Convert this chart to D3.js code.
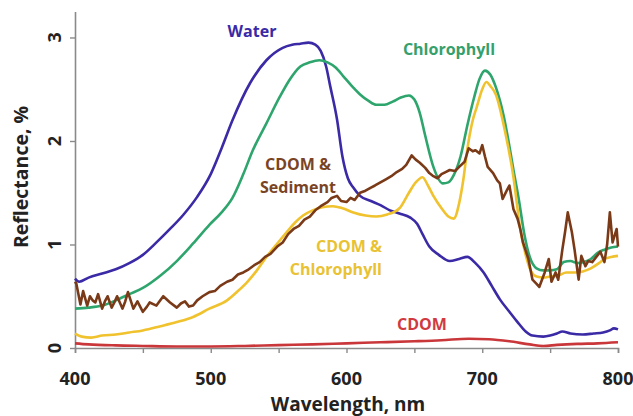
<!DOCTYPE html>
<html>
<head>
<meta charset="utf-8">
<script src="https://cdn.jsdelivr.net/npm/d3@7/dist/d3.min.js"></script>
<style>
  html, body { margin: 0; padding: 0; background: #fff; }
  svg { display: block; }
  text { font-family: "Open Sans", "DejaVu Sans", sans-serif; font-weight: 700; }
</style>
</head>
<body>
<svg id="chart" width="633" height="416"></svg>
<script>
// Reflectance spectra, [wavelength nm, reflectance %]
const water = [[400,0.67],[403,0.64],[410,0.68],[420,0.72],[430,0.76],[440,0.82],[450,0.90],[460,1.02],[470,1.15],[480,1.29],[490,1.46],[500,1.68],[508,1.93],[516,2.20],[529,2.56],[541,2.78],[553,2.90],[560,2.93],[566,2.94],[572,2.95],[577,2.93],[581,2.87],[585,2.72],[588,2.53],[593,2.21],[597,1.85],[601,1.64],[605,1.55],[610,1.47],[618,1.42],[625,1.38],[632,1.33],[639,1.30],[647,1.26],[652,1.20],[656,1.10],[661,0.98],[668,0.90],[676,0.84],[683,0.86],[689,0.88],[695,0.82],[701,0.73],[707,0.60],[713,0.47],[720,0.35],[726,0.25],[732,0.16],[737,0.12],[745,0.11],[750,0.12],[755,0.14],[759,0.16],[765,0.14],[774,0.13],[782,0.14],[789,0.15],[794,0.17],[797,0.19],[800,0.18]];

const chlorophyll = [[400,0.38],[410,0.39],[420,0.41],[430,0.46],[440,0.52],[450,0.58],[463,0.70],[475,0.84],[487,1.01],[499,1.19],[508,1.31],[516,1.45],[524,1.68],[531,1.91],[541,2.17],[551,2.43],[558,2.59],[566,2.72],[573,2.76],[580,2.78],[586,2.76],[592,2.71],[598,2.62],[604,2.53],[610,2.45],[616,2.39],[622,2.35],[628,2.35],[634,2.38],[640,2.42],[646,2.44],[650,2.40],[654,2.27],[658,2.05],[664,1.75],[671,1.59],[675,1.60],[679,1.67],[684,1.85],[689,2.15],[694,2.42],[698,2.60],[702,2.68],[706,2.64],[710,2.52],[716,2.23],[720,1.95],[723,1.72],[727,1.43],[731,1.10],[735,0.88],[740,0.77],[745,0.75],[750,0.75],[755,0.76],[760,0.83],[765,0.84],[770,0.82],[775,0.83],[780,0.86],[785,0.92],[790,0.95],[795,0.97],[800,0.98]];

const cdomChlorophyll = [[400,0.14],[405,0.11],[412,0.10],[420,0.12],[430,0.13],[440,0.15],[450,0.17],[463,0.21],[475,0.25],[487,0.30],[499,0.38],[512,0.46],[520,0.55],[527,0.64],[534,0.75],[541,0.88],[549,1.01],[556,1.12],[562,1.21],[568,1.28],[575,1.33],[582,1.36],[590,1.37],[597,1.35],[605,1.31],[614,1.28],[622,1.27],[630,1.29],[639,1.35],[646,1.50],[651,1.60],[656,1.65],[660,1.57],[664,1.47],[670,1.35],[675,1.27],[679,1.25],[683,1.40],[686,1.62],[689,1.92],[693,2.20],[696,2.33],[700,2.50],[703,2.57],[706,2.53],[710,2.45],[717,2.08],[723,1.65],[728,1.15],[732,0.90],[736,0.74],[740,0.69],[745,0.68],[750,0.69],[756,0.70],[762,0.73],[768,0.73],[774,0.74],[780,0.77],[786,0.82],[790,0.86],[795,0.88],[800,0.89]];

const cdomSediment = [[400,0.64],[401,0.62],[404,0.42],[406,0.55],[409,0.41],[411,0.50],[413,0.46],[415,0.44],[417,0.52],[420,0.38],[422,0.45],[424,0.50],[427,0.39],[429,0.44],[431,0.50],[435,0.38],[437,0.45],[439,0.54],[443,0.38],[446,0.45],[450,0.35],[453,0.40],[455,0.44],[460,0.41],[465,0.50],[470,0.44],[475,0.39],[478,0.43],[481,0.45],[484,0.40],[487,0.41],[490,0.46],[494,0.50],[499,0.54],[503,0.55],[507,0.60],[512,0.64],[516,0.66],[520,0.71],[524,0.73],[528,0.76],[532,0.80],[536,0.83],[540,0.88],[544,0.91],[549,0.98],[553,1.02],[557,1.10],[561,1.15],[565,1.18],[569,1.24],[573,1.27],[577,1.33],[581,1.37],[586,1.41],[589,1.45],[593,1.47],[596,1.42],[600,1.41],[603,1.45],[606,1.43],[610,1.50],[614,1.52],[618,1.55],[621,1.57],[625,1.60],[629,1.63],[633,1.66],[637,1.70],[641,1.73],[644,1.77],[648,1.86],[651,1.82],[654,1.79],[658,1.74],[661,1.69],[664,1.66],[667,1.64],[670,1.68],[673,1.70],[676,1.72],[680,1.71],[683,1.75],[687,1.80],[690,1.93],[693,1.90],[695,1.91],[698,1.88],[700,1.96],[702,1.85],[704,1.75],[708,1.69],[711,1.62],[713,1.59],[715,1.44],[718,1.52],[720,1.57],[723,1.34],[726,1.25],[728,1.15],[730,1.02],[734,0.86],[737,0.66],[740,0.62],[742,0.59],[746,0.73],[749,0.86],[751,0.64],[754,0.73],[756,0.66],[759,0.95],[761,1.12],[763,1.31],[766,1.12],[768,0.95],[771,0.66],[773,0.89],[776,0.79],[778,0.84],[781,0.83],[784,0.88],[787,0.93],[790,0.83],[792,1.00],[794,1.31],[796,1.02],[799,1.15],[800,0.98]];

const cdom = [[400,0.045],[410,0.035],[430,0.025],[450,0.02],[475,0.015],[500,0.015],[525,0.02],[550,0.028],[575,0.035],[600,0.045],[625,0.055],[650,0.065],[670,0.075],[690,0.09],[705,0.085],[720,0.065],[735,0.035],[745,0.02],[755,0.03],[770,0.04],[785,0.045],[800,0.055]];

const xTicks = [400, 500, 600, 700, 800];
const xMinorTicks = [400, 450, 500, 550, 600, 650, 700, 750, 800];
const yTicks = [0, 1, 2, 3];

const series = [
  { name: "cdom", data: cdom, color: "#c9373b", curve: d3.curveMonotoneX },
  { name: "water", data: water, color: "#3a2aa6", curve: d3.curveMonotoneX },
  { name: "chlorophyll", data: chlorophyll, color: "#2ea56c", curve: d3.curveMonotoneX },
  { name: "cdomChlorophyll", data: cdomChlorophyll, color: "#f0c22e", curve: d3.curveMonotoneX },
  { name: "cdomSediment", data: cdomSediment, color: "#7a3a18", curve: d3.curveLinear }
];

const labels = [
  { lines: ["Water"], x: 252, y: 37, color: "#3a2aa6", anchor: "middle" },
  { lines: ["Chlorophyll"], x: 449, y: 55, color: "#35a06c", anchor: "middle" },
  { lines: ["CDOM &", "Sediment"], x: 298, y: 170, color: "#7a4424", anchor: "middle" },
  { lines: ["CDOM &", "Chlorophyll"], x: 382, y: 252, color: "#e9c233", anchor: "end" },
  { lines: ["CDOM"], x: 422, y: 330, color: "#d03a3e", anchor: "middle" }
];

const svg = d3.select("#chart");
const x = d3.scaleLinear().domain([400, 800]).range([75, 618]);
const y = d3.scaleLinear().domain([0, 3.25]).range([348, 11.6]);

// axes
const axisColor = "#8a8a8a";
const gx = svg.append("g").attr("transform", `translate(0,${y(0)})`);
gx.call(d3.axisBottom(x).tickValues(xMinorTicks).tickSize(5).tickFormat(""));
gx.select(".domain").attr("stroke", axisColor).attr("stroke-width", 1.6);
gx.selectAll(".tick line").attr("stroke", axisColor).attr("stroke-width", 1.4);

const gy = svg.append("g").attr("transform", `translate(${x(400)},0)`);
gy.call(d3.axisLeft(y).tickValues(yTicks).tickSize(5).tickFormat("").tickSizeOuter(0));
gy.select(".domain").attr("stroke", axisColor).attr("stroke-width", 1.6);
gy.selectAll(".tick line").attr("stroke", axisColor).attr("stroke-width", 1.4);

// tick labels
svg.append("g").selectAll("text").data(xTicks).join("text")
  .attr("x", d => x(d)).attr("y", 385)
  .attr("text-anchor", "middle").attr("font-size", 18).attr("fill", "#222")
  .text(d => d);

svg.append("g").selectAll("text").data(yTicks).join("text")
  .attr("transform", d => `translate(61,${y(d)}) rotate(-90)`)
  .attr("text-anchor", "middle").attr("font-size", 18).attr("fill", "#222")
  .text(d => d);

// axis titles
svg.append("text").attr("x", 348).attr("y", 411)
  .attr("text-anchor", "middle").attr("font-size", 19).attr("fill", "#222")
  .text("Wavelength, nm");
svg.append("text").attr("transform", `translate(28,177) rotate(-90)`)
  .attr("text-anchor", "middle").attr("font-size", 19.5).attr("fill", "#222")
  .text("Reflectance, %");

// spectra
const line = d3.line().x(d => x(d[0])).y(d => y(d[1]));
svg.append("g").selectAll("path").data(series).join("path")
  .attr("fill", "none")
  .attr("stroke", d => d.color)
  .attr("stroke-width", 2.6)
  .attr("stroke-linejoin", "round")
  .attr("d", d => line.curve(d.curve)(d.data));

// series labels
const lg = svg.append("g");
labels.forEach(l => {
  const t = lg.append("text").attr("text-anchor", l.anchor).attr("font-size", 16).attr("fill", l.color);
  l.lines.forEach((s, i) => {
    t.append("tspan").attr("x", l.x).attr("y", l.y + i * 23).text(s);
  });
});
</script>
</body>
</html>
